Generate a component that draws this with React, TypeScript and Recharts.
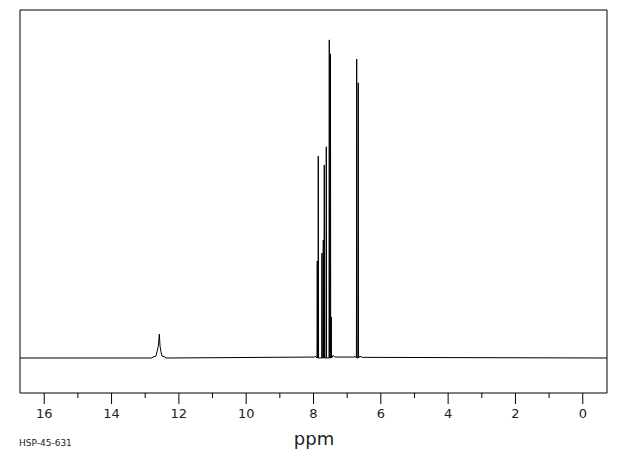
import React from 'react';
import { LineChart, Line, XAxis, YAxis, ReferenceArea } from 'recharts';

const X_MIN = -0.72;
const X_MAX = 16.72;
const Y_MIN = -11;
const Y_MAX = 109.4;

const axisTicks = [0, 1, 2, 3, 4, 5, 6, 7, 8, 9, 10, 11, 12, 13, 14, 15, 16];

// Sharp lines (ppm, relative intensity)
const peakPpm = [7.888, 7.858, 7.748, 7.709, 7.68, 7.62, 7.531, 7.496, 7.472, 6.717, 6.67];
const peakHeight = [30.5, 63.5, 33.0, 37.1, 60.7, 66.4, 100, 95.6, 12.9, 94.0, 86.5];

// Broad signal near 12.6 ppm
const broadPpm = [12.8, 12.77, 12.68, 12.65, 12.61, 12.58, 12.56, 12.53, 12.5, 12.41, 12.38];
const broadHeight = [0, 0.3, 0.6, 1.9, 3.8, 7.5, 3.8, 1.9, 0.6, 0.3, 0];

// Small baseline wiggles
const noisePpm = [7.98, 7.93, 7.42, 7.38, 7.33, 6.8, 6.76, 6.62, 6.58, 6.52];
const noiseHeight = [0.3, 0.5, 0.8, 0.4, 0.3, 0.3, 0.5, 0.6, 0.3, 0.2];

const edgePpm = [X_MAX, X_MIN];

const SPIKE_HALF = 0.008;

type Pt = { ppm: number; v: number };
const points: Pt[] = [];
edgePpm.forEach((p) => points.push({ ppm: p, v: 0 }));
broadPpm.forEach((p, i) => points.push({ ppm: p, v: broadHeight[i] }));
noisePpm.forEach((p, i) => points.push({ ppm: p, v: noiseHeight[i] }));
peakPpm.forEach((p, i) => {
  points.push({ ppm: p + SPIKE_HALF, v: 0 });
  points.push({ ppm: p, v: peakHeight[i] });
  points.push({ ppm: p - SPIKE_HALF, v: 0 });
});
points.sort((a, b) => b.ppm - a.ppm);

const Tick = (props: any) => {
  const { x, y, payload } = props;
  const v = payload.value as number;
  const major = v % 2 === 0;
  return (
    <g>
      <line x1={x} x2={x} y1={y} y2={y + (major ? 11 : 5)} stroke="#000" strokeWidth={1} />
      {major && (
        <text
          x={x}
          y={y + 25}
          textAnchor="middle"
          fontFamily="DejaVu Sans"
          fontSize={13}
          fill="#222"
        >
          {v}
        </text>
      )}
    </g>
  );
};

export default function App() {
  return (
    <div style={{ position: 'absolute', left: 0, top: 0, width: 620, height: 455, background: '#fff' }}>
      <LineChart
        width={620}
        height={455}
        data={points}
        margin={{ top: 10, right: 13, left: 20, bottom: 0 }}
      >
        <XAxis
          dataKey="ppm"
          type="number"
          domain={[X_MIN, X_MAX]}
          reversed
          allowDataOverflow
          ticks={axisTicks}
          interval={0}
          tick={<Tick />}
          tickLine={false}
          axisLine={false}
          tickSize={0}
          tickMargin={0}
          height={62}
        />
        <YAxis hide type="number" domain={[Y_MIN, Y_MAX]} allowDataOverflow />
        <ReferenceArea
          x1={X_MIN}
          x2={X_MAX}
          y1={Y_MIN}
          y2={Y_MAX}
          fill="none"
          fillOpacity={0}
          stroke="#000"
          strokeWidth={1}
        />
        <Line
          dataKey="v"
          type="linear"
          stroke="#000"
          strokeWidth={1}
          dot={false}
          isAnimationActive={false}
        />
      </LineChart>
      <div
        style={{
          position: 'absolute',
          left: 0,
          width: 620,
          top: 429,
          textAlign: 'center',
          fontFamily: 'DejaVu Sans',
          fontSize: 18,
          color: '#222',
          lineHeight: '20px',
          paddingLeft: 4,
        }}
      >
        ppm
      </div>
      <div
        style={{
          position: 'absolute',
          left: 19,
          top: 437,
          fontFamily: 'DejaVu Sans',
          fontSize: 9,
          color: '#222',
          lineHeight: '12px',
        }}
      >
        HSP-45-631
      </div>
    </div>
  );
}
